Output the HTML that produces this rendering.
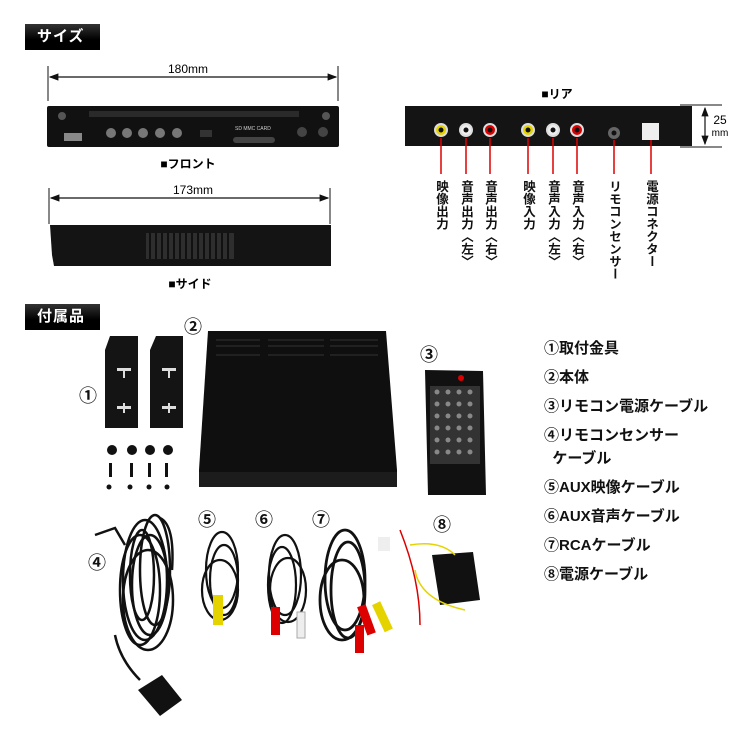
<!DOCTYPE html>
<html><head><meta charset="utf-8">
<style>
html,body{margin:0;padding:0;background:#fff;}
body{width:750px;height:750px;position:relative;overflow:hidden;font-family:"Liberation Sans","Noto Sans CJK JP",sans-serif;}
.tag{position:absolute;left:25px;width:75px;height:26px;background:linear-gradient(#333,#000 60%);color:#fff;font-weight:bold;font-size:15px;line-height:26px;text-indent:12px;letter-spacing:1px;}
.v{position:absolute;writing-mode:vertical-rl;font-weight:bold;font-size:12.5px;line-height:14px;color:#111;}
.list{position:absolute;left:544px;top:334px;font-weight:bold;font-size:15px;color:#111;line-height:29px;}
</style></head><body>
<div class="tag" style="top:24px">サイズ</div>
<div class="tag" style="top:304px">付属品</div>

<svg width="750" height="750" style="position:absolute;left:0;top:0">
<defs><marker id="a" markerWidth="8" markerHeight="8" refX="7" refY="4" orient="auto-start-reverse"><path d="M0,1 L8,4 L0,7z" fill="#111"/></marker></defs>
<line x1="48" y1="66" x2="48" y2="101" stroke="#111"/><line x1="338" y1="66" x2="338" y2="101" stroke="#111"/>
<line x1="50" y1="77" x2="336" y2="77" stroke="#111" stroke-width="1.2" marker-start="url(#a)" marker-end="url(#a)"/>
<text x="188" y="73" font-size="12" text-anchor="middle" font-family="Liberation Sans">180mm</text>
<rect x="47" y="106" width="292" height="41" rx="2" fill="#111"/>
<rect x="89" y="111" width="210" height="6" fill="#2a2a2a"/>
<circle cx="62" cy="116" r="4" fill="#555"/><circle cx="326" cy="116" r="4" fill="#555"/>
<rect x="64" y="133" width="18" height="8" fill="#888"/>
<g fill="#777"><circle cx="111" cy="133" r="5"/><circle cx="127" cy="133" r="5"/><circle cx="143" cy="133" r="5"/><circle cx="160" cy="133" r="5"/><circle cx="177" cy="133" r="5"/></g>
<rect x="200" y="130" width="12" height="7" fill="#333"/>
<rect x="233" y="137" width="42" height="6" rx="3" fill="#444"/>
<text x="235" y="130" font-size="5" fill="#ccc">SD MMC CARD</text>
<circle cx="302" cy="132" r="5" fill="#444"/><circle cx="323" cy="132" r="5" fill="#444"/>
<text x="188" y="168" font-size="12" text-anchor="middle" font-weight="bold" font-family="Liberation Sans,Noto Sans CJK JP">■フロント</text>
<line x1="49" y1="188" x2="49" y2="224" stroke="#111"/><line x1="330" y1="188" x2="330" y2="224" stroke="#111"/>
<line x1="51" y1="198" x2="328" y2="198" stroke="#111" stroke-width="1.2" marker-start="url(#a)" marker-end="url(#a)"/>
<text x="193" y="194" font-size="12" text-anchor="middle" font-family="Liberation Sans">173mm</text>
<path d="M50,225 L331,225 L331,266 L54,266 L52,255z" fill="#141414"/>
<rect x="146" y="233" width="88" height="26" fill="#2e2e2e"/>
<g stroke="#111" stroke-width="2"><path d="M150,233v26M156,233v26M162,233v26M168,233v26M174,233v26M180,233v26M186,233v26M192,233v26M198,233v26M204,233v26M210,233v26M216,233v26M222,233v26M228,233v26"/></g>
<text x="190" y="288" font-size="12" text-anchor="middle" font-weight="bold" font-family="Liberation Sans,Noto Sans CJK JP">■サイド</text>
<text x="557" y="98" font-size="12" text-anchor="middle" font-weight="bold" font-family="Liberation Sans,Noto Sans CJK JP">■リア</text>
<path d="M405,106 L692,106 L692,146 L405,146z" fill="#141414"/>
<g stroke="#ddd" stroke-width="2"><circle cx="441" cy="130" r="6" fill="#e5d300"/><circle cx="466" cy="130" r="6" fill="#eee"/><circle cx="490" cy="130" r="6" fill="#d00"/><circle cx="528" cy="130" r="6" fill="#e5d300"/><circle cx="553" cy="130" r="6" fill="#eee"/><circle cx="577" cy="130" r="6" fill="#d00"/></g>
<g fill="#111"><circle cx="441" cy="130" r="2.5"/><circle cx="466" cy="130" r="2.5"/><circle cx="490" cy="130" r="2.5"/><circle cx="528" cy="130" r="2.5"/><circle cx="553" cy="130" r="2.5"/><circle cx="577" cy="130" r="2.5"/></g>
<circle cx="614" cy="133" r="6" fill="#666"/><circle cx="614" cy="133" r="2.5" fill="#111"/>
<rect x="642" y="123" width="17" height="17" fill="#eee"/>
<g stroke="#d00" stroke-width="1.5"><path d="M441,138v36M466,138v36M490,138v36M528,138v36M553,138v36M577,138v36M614,140v34M651,140v34"/></g>
<line x1="680" y1="105" x2="722" y2="105" stroke="#111"/><line x1="680" y1="147" x2="722" y2="147" stroke="#111"/>
<line x1="705" y1="108" x2="705" y2="144" stroke="#111" stroke-width="1.2" marker-start="url(#a)" marker-end="url(#a)"/>
<text x="720" y="124" font-size="12" text-anchor="middle" font-family="Liberation Sans">25</text>
<text x="720" y="136" font-size="10" text-anchor="middle" font-family="Liberation Sans">mm</text>

<path d="M110,336 L138,336 L138,428 L105,428 L105,350z" fill="#141414"/>
<path d="M156,336 L183,336 L183,428 L150,428 L150,350z" fill="#141414"/>
<g fill="#ddd"><rect x="117" y="368" width="14" height="3"/><rect x="123" y="368" width="2" height="10"/><rect x="117" y="406" width="14" height="3"/><rect x="123" y="403" width="2" height="10"/><rect x="162" y="368" width="14" height="3"/><rect x="168" y="368" width="2" height="10"/><rect x="162" y="406" width="14" height="3"/><rect x="168" y="403" width="2" height="10"/></g>
<g fill="#111"><circle cx="112" cy="450" r="5"/><circle cx="132" cy="450" r="5"/><circle cx="150" cy="450" r="5"/><circle cx="168" cy="450" r="5"/>
<rect x="109" y="463" width="3" height="14"/><rect x="130" y="463" width="3" height="14"/><rect x="148" y="463" width="3" height="14"/><rect x="165" y="463" width="3" height="14"/>
<circle cx="109" cy="487" r="2.5"/><circle cx="130" cy="487" r="2.5"/><circle cx="149" cy="487" r="2.5"/><circle cx="167" cy="487" r="2.5"/></g>
<path d="M208,331 L386,331 L397,470 L397,487 L199,487 L199,470z" fill="#0f0f0f"/>
<rect x="199" y="472" width="198" height="15" fill="#1c1c1c"/>
<g stroke="#333" stroke-width="1"><path d="M216,340h44M216,346h44M268,340h56M268,346h56M330,340h48M330,346h48M216,355h44M268,355h56M330,355h48"/></g>
<path d="M425,370 L483,371 L486,495 L428,495z" fill="#111"/>
<rect x="430" y="386" width="50" height="78" fill="#333"/>
<g fill="#888"><circle cx="437" cy="392" r="2.5"/><circle cx="448" cy="392" r="2.5"/><circle cx="459" cy="392" r="2.5"/><circle cx="470" cy="392" r="2.5"/><circle cx="437" cy="404" r="2.5"/><circle cx="448" cy="404" r="2.5"/><circle cx="459" cy="404" r="2.5"/><circle cx="470" cy="404" r="2.5"/><circle cx="437" cy="416" r="2.5"/><circle cx="448" cy="416" r="2.5"/><circle cx="459" cy="416" r="2.5"/><circle cx="470" cy="416" r="2.5"/><circle cx="437" cy="428" r="2.5"/><circle cx="448" cy="428" r="2.5"/><circle cx="459" cy="428" r="2.5"/><circle cx="470" cy="428" r="2.5"/><circle cx="437" cy="440" r="2.5"/><circle cx="448" cy="440" r="2.5"/><circle cx="459" cy="440" r="2.5"/><circle cx="470" cy="440" r="2.5"/><circle cx="437" cy="452" r="2.5"/><circle cx="448" cy="452" r="2.5"/><circle cx="459" cy="452" r="2.5"/><circle cx="470" cy="452" r="2.5"/></g>
<circle cx="461" cy="378" r="3" fill="#d00"/>
<!-- cable 4 -->
<g fill="none" stroke="#111" stroke-width="2.5">
<ellipse cx="145" cy="580" rx="22" ry="60"/><ellipse cx="150" cy="585" rx="18" ry="50"/><ellipse cx="140" cy="590" rx="20" ry="55"/><ellipse cx="155" cy="570" rx="15" ry="55"/><ellipse cx="148" cy="600" rx="25" ry="50"/><ellipse cx="142" cy="575" rx="12" ry="45"/>
<path d="M115,635 Q120,660 140,680"/><path d="M95,535 L115,528 L125,545"/><path d="M160,518 Q175,525 172,570"/></g>
<path d="M138,690 L162,675 L182,700 L160,716z" fill="#111"/>
<!-- cable 5 -->
<g fill="none" stroke="#111" stroke-width="2.2"><ellipse cx="222" cy="570" rx="16" ry="38"/><ellipse cx="224" cy="580" rx="14" ry="35"/><ellipse cx="220" cy="590" rx="18" ry="30"/></g>
<rect x="213" y="595" width="10" height="30" fill="#e5d300"/>
<!-- cable 6 -->
<g fill="none" stroke="#111" stroke-width="2.2"><ellipse cx="285" cy="575" rx="16" ry="40"/><ellipse cx="282" cy="585" rx="14" ry="38"/><ellipse cx="288" cy="590" rx="18" ry="32"/></g>
<rect x="271" y="607" width="9" height="28" fill="#d00"/><rect x="297" y="612" width="8" height="26" fill="#eee" stroke="#aaa"/>
<!-- cable 7 -->
<g fill="none" stroke="#111" stroke-width="2.8"><ellipse cx="345" cy="580" rx="20" ry="50"/><ellipse cx="348" cy="590" rx="17" ry="48"/><ellipse cx="342" cy="600" rx="22" ry="40"/></g>
<rect x="362" y="605" width="9" height="30" fill="#d00" transform="rotate(-20 366 620)"/><rect x="378" y="602" width="9" height="30" fill="#e5d300" transform="rotate(-25 382 617)"/><rect x="355" y="625" width="9" height="28" fill="#d00"/>
<!-- cable 8 -->
<path d="M432,555 L473,552 L480,600 L440,605z" fill="#111"/>
<g fill="none" stroke-width="1.5"><path d="M400,530 Q420,580 420,625" stroke="#d00"/><path d="M410,545 Q440,540 455,555" stroke="#e5d300"/><path d="M415,570 Q420,600 465,610" stroke="#e5d300"/></g>
<rect x="378" y="537" width="12" height="14" fill="#eee"/>
<g font-size="18" text-anchor="middle" font-weight="bold" font-family="Liberation Sans,Noto Sans CJK JP" fill="#111">
<text x="193" y="333">②</text><text x="429" y="361">③</text><text x="88" y="402">①</text><text x="97" y="569">④</text><text x="207" y="526">⑤</text><text x="264" y="526">⑥</text><text x="321" y="526">⑦</text><text x="442" y="531">⑧</text></g>
</svg>

<div class="v" style="left:434px;top:180px">映像出力</div>
<div class="v" style="left:459px;top:180px">音声出力〈左〉</div>
<div class="v" style="left:483px;top:180px">音声出力〈右〉</div>
<div class="v" style="left:521px;top:180px">映像入力</div>
<div class="v" style="left:546px;top:180px">音声入力〈左〉</div>
<div class="v" style="left:570px;top:180px">音声入力〈右〉</div>
<div class="v" style="left:607px;top:180px">リモコンセンサー</div>
<div class="v" style="left:644px;top:180px">電源コネクター</div>

<div class="list">①取付金具<br>②本体<br>③リモコン電源ケーブル<br>④リモコンセンサー<br><span style="display:block;margin-top:-6px;margin-bottom:0px">&nbsp;&nbsp;ケーブル</span>⑤AUX映像ケーブル<br>⑥AUX音声ケーブル<br>⑦RCAケーブル<br>⑧電源ケーブル</div>
</body></html>
